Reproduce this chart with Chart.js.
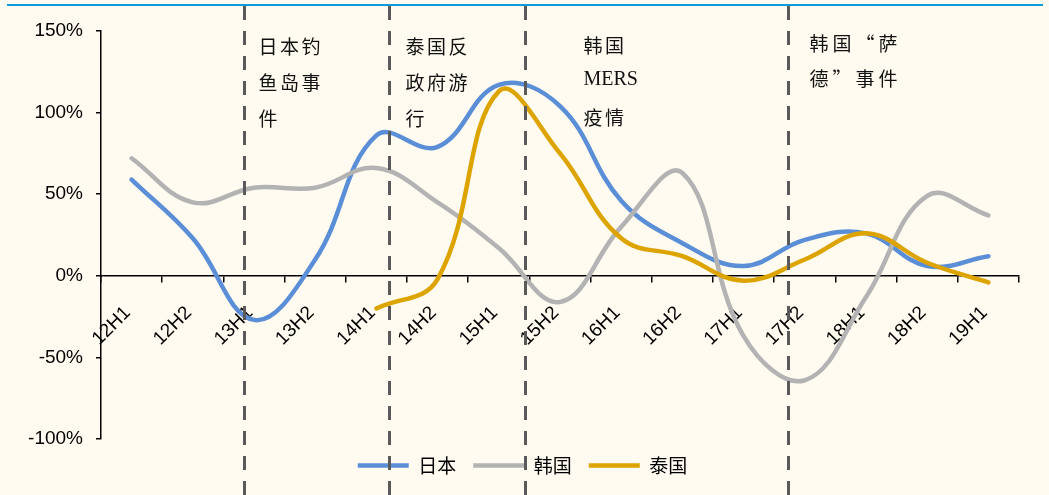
<!DOCTYPE html>
<html>
<head>
<meta charset="utf-8">
<script src="https://cdn.jsdelivr.net/npm/chart.js@4.4.1/dist/chart.umd.min.js"></script>
<style>
  html, body { margin: 0; padding: 0; background: #fffbf0; }
  #wrap { width: 1049px; height: 495px; position: relative; }
</style>
</head>
<body>
<div id="wrap"><canvas id="c" width="1049" height="495"></canvas></div>
<script>
// Half-year periods on the x axis
const categories = ['12H1', '12H2', '13H1', '13H2', '14H1', '14H2', '15H1', '15H2',
                    '16H1', '16H2', '17H1', '17H2', '18H1', '18H2', '19H1'];

// Year-on-year change of visitors (%)
const japan    = [59, 23, -27, 10, 86, 79, 117, 104, 46, 20, 6, 22, 26, 6, 12];
const korea    = [72, 45, 54, 54, 66, 45, 17, -16, 30, 63, -37, -64, -13, 49, 37];
const thailand = [null, null, null, null, -20, -2, 113, 75, 23, 12, -3, 10, 26, 8, -4];

const seriesNames = ['日本', '韩国', '泰国'];

// Value axis ticks
const yTicks = [-100, -50, 0, 50, 100, 150];

// Events, located on the category axis (fractional category index)
const eventPositions = [1.83, 4.21, 6.42, 10.73];
const eventLabels = [
  ['日本钓', '鱼岛事', '件'],
  ['泰国反', '政府游', '行'],
  ['韩国', 'MERS', '疫情'],
  ['韩国“萨', '德”事件']
];

// Placement of the event captions relative to their dashed line
const eventTextLayout = [
  { dx: 14, top: 47, lineGap: 36, advance: 21.5 },
  { dx: 16, top: 47, lineGap: 36, advance: 21.5 },
  { dx: 58, top: 46, lineGap: 36, advance: 21.5 },
  { dx: 21, top: 44, lineGap: 35, advance: 23 }
];

const COLORS = { japan: '#5a8fd8', korea: '#b3b3b3', thailand: '#dda400' };

const backgroundPlugin = {
  id: 'background',
  beforeDraw(chart) {
    const ctx = chart.ctx;
    ctx.save();
    ctx.fillStyle = '#fffbf0';
    ctx.fillRect(0, 0, chart.width, chart.height);
    // top rule
    ctx.fillStyle = '#0d9ddc';
    ctx.fillRect(7, 4, 1036, 2);
    ctx.restore();
  }
};

// Nudges the legend row a little to the right of the full-width centre
const legendShiftPlugin = {
  id: 'legendShift',
  afterLayout(chart) {
    if (chart.legend) chart.legend.left += 26;
  }
};

const eventPlugin = {
  id: 'events',
  afterDatasetsDraw(chart) {
    const ctx = chart.ctx;
    const xs = chart.scales.x;
    ctx.save();
    eventPositions.forEach((pos, i) => {
      const x = Math.round(xs.getPixelForValue(pos)) + 0.5;
      ctx.beginPath();
      ctx.setLineDash([14, 11]);
      ctx.lineWidth = 3;
      ctx.strokeStyle = '#5a5a5a';
      ctx.moveTo(x, 6);
      ctx.lineTo(x, chart.height);
      ctx.stroke();

      const lay = eventTextLayout[i];
      ctx.setLineDash([]);
      ctx.fillStyle = '#111';
      ctx.textBaseline = 'middle';
      ctx.textAlign = 'left';
      eventLabels[i].forEach((line, j) => {
        const y = lay.top + j * lay.lineGap;
        let cx = x + lay.dx;
        if (/^[A-Za-z]+$/.test(line)) {
          ctx.font = '20px "Liberation Serif", "DejaVu Serif", serif';
          ctx.fillText(line, cx, y - 2);
        } else {
          ctx.font = '19px "Noto Sans CJK SC", sans-serif';
          for (const ch of line) {
            ctx.fillText(ch, cx, y);
            cx += lay.advance;
          }
        }
      });
    });
    ctx.restore();
  }
};

const lineStyle = {
  borderWidth: 4.5,
  pointRadius: 0,
  pointHoverRadius: 0,
  tension: 0.4,
  fill: false,
  borderCapStyle: 'round',
  borderJoinStyle: 'round'
};

const chart = new Chart(document.getElementById('c'), {
  type: 'line',
  data: {
    labels: categories,
    datasets: [
      { label: seriesNames[0], data: japan, borderColor: COLORS.japan, backgroundColor: COLORS.japan, order: 3, ...lineStyle },
      { label: seriesNames[1], data: korea, borderColor: COLORS.korea, backgroundColor: COLORS.korea, order: 2, ...lineStyle },
      { label: seriesNames[2], data: thailand, borderColor: COLORS.thailand, backgroundColor: COLORS.thailand, order: 1, ...lineStyle }
    ]
  },
  options: {
    responsive: false,
    animation: false,
    devicePixelRatio: 1,
    layout: { padding: { left: 0, right: 30, top: 31, bottom: 10 } },
    plugins: {
      tooltip: { enabled: false },
      legend: {
        position: 'bottom',
        labels: {
          usePointStyle: true,
          pointStyle: 'line',
          pointStyleWidth: 51,
          padding: 17,
          color: '#000',
          font: { family: '"Noto Sans CJK SC", sans-serif', size: 19 },
          sort: (a, b) => a.datasetIndex - b.datasetIndex
        }
      }
    },
    scales: {
      x: {
        type: 'category',
        position: { y: 0 },
        offset: true,
        grid: { offset: true, drawOnChartArea: false, drawTicks: true, tickLength: 6, color: '#000', lineWidth: 1.5 },
        border: { display: true, color: '#000', width: 1.5 },
        ticks: {
          autoSkip: false,
          minRotation: 45,
          maxRotation: 45,
          padding: 20,
          labelOffset: -4,
          color: '#000',
          font: { family: '"Liberation Sans", Arial, sans-serif', size: 19 }
        }
      },
      y: {
        min: yTicks[0],
        max: yTicks[yTicks.length - 1],
        afterBuildTicks(scale) { scale.ticks = yTicks.map(v => ({ value: v })); },
        afterFit(scale) { scale.width = 101; },
        grid: { drawOnChartArea: false, drawTicks: true, tickLength: 5, color: '#000', lineWidth: 1.5 },
        border: { display: true, color: '#000', width: 1.5 },
        ticks: {
          padding: 13,
          color: '#000',
          font: { family: '"Liberation Sans", Arial, sans-serif', size: 19 },
          callback: v => v + '%'
        }
      }
    }
  },
  plugins: [backgroundPlugin, legendShiftPlugin, eventPlugin]
});
</script>
</body>
</html>
